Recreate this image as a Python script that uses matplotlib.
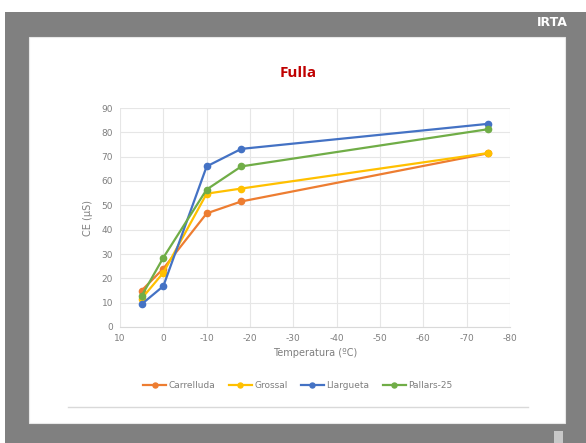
import matplotlib.pyplot as plt
from matplotlib.patches import Rectangle
from matplotlib.lines import Line2D
from matplotlib.ticker import FixedLocator, FuncFormatter

# Data
temps = [5, 0, -10, -18, -75]
carrelluda = [15, 24, 46.7, 51.6, 71.4]
grossal = [11.7, 22.3, 54.8, 56.9, 71.5]
llargueta = [9.4, 16.8, 66, 73.2, 83.5]
pallars = [12.8, 28.5, 56.5, 66, 81.3]

series = [
    ("Carrelluda", carrelluda, "#ED7D31"),
    ("Grossal", grossal, "#FFC000"),
    ("Llargueta", llargueta, "#4472C4"),
    ("Pallars-25", pallars, "#70AD47"),
]

W, H = 586, 443
fig = plt.figure(figsize=(W / 100, H / 100), dpi=100)
fig.patch.set_facecolor("white")

def fx(px):
    return px / W

def fy(py):
    return 1 - py / H

# gray frame and white slide
fig.patches.append(Rectangle((fx(5), 0), fx(581), fy(12), transform=fig.transFigure,
                             facecolor="#808080", edgecolor="none", zorder=0))
fig.patches.append(Rectangle((fx(29), fy(423)), fx(536), (423 - 37) / H, transform=fig.transFigure,
                             facecolor="white", edgecolor="#e8e8e8", lw=0.8, zorder=1))
fig.patches.append(Rectangle((fx(554), 0), fx(9), (443 - 431) / H, transform=fig.transFigure,
                             facecolor="#c8c8c8", edgecolor="none", zorder=1))
fig.text(fx(552), fy(22), "IRTA", color="white", fontsize=9, fontweight="bold",
         ha="center", va="center", family="Liberation Sans Narrow")
fig.lines.append(Line2D([fx(68), fx(528)], [fy(407), fy(407)], transform=fig.transFigure,
                        color="#d9d9d9", lw=1, zorder=2))

fig.text(fx(298), fy(73), "Fulla", color="#C00000", fontsize=11, fontweight="bold",
         ha="center", va="center", family="Open Sans")

ax = fig.add_axes([fx(120), fy(327), fx(390), (327 - 108) / H])
ax.set_zorder(5)
ax.set_facecolor("white")
for name, vals, col in series:
    ax.plot(temps, vals, color=col, lw=1.6, marker="o", markersize=4.5, label=name, zorder=3)

ax.set_xlim(10, -80)
ax.set_ylim(0, 90)
ax.xaxis.set_major_locator(FixedLocator(list(range(10, -81, -10))))
ax.yaxis.set_major_locator(FixedLocator(list(range(0, 91, 10))))
ax.xaxis.set_major_formatter(FuncFormatter(lambda v, p: "%d" % v))
ax.grid(True, color="#e6e6e6", lw=0.8)
ax.set_axisbelow(True)
for s in ["top", "right", "left"]:
    ax.spines[s].set_visible(False)
ax.spines["bottom"].set_color("#d9d9d9")
ax.tick_params(length=0, labelsize=6.5, labelcolor="#7f7f7f", pad=5)
ax.set_xlabel("Temperatura (ºC)", fontsize=7, color="#7f7f7f", labelpad=4)
ax.set_ylabel("CE (µS)", fontsize=7, color="#7f7f7f", labelpad=6)

leg = fig.legend(loc="center", bbox_to_anchor=(fx(298), fy(386)), ncol=4, frameon=False,
                 fontsize=6.5, labelcolor="#7f7f7f", handlelength=2.5, columnspacing=1.5,
                 handletextpad=0.3, markerscale=0.8)
leg.set_zorder(5)

fig.savefig("out.png", dpi=100)
